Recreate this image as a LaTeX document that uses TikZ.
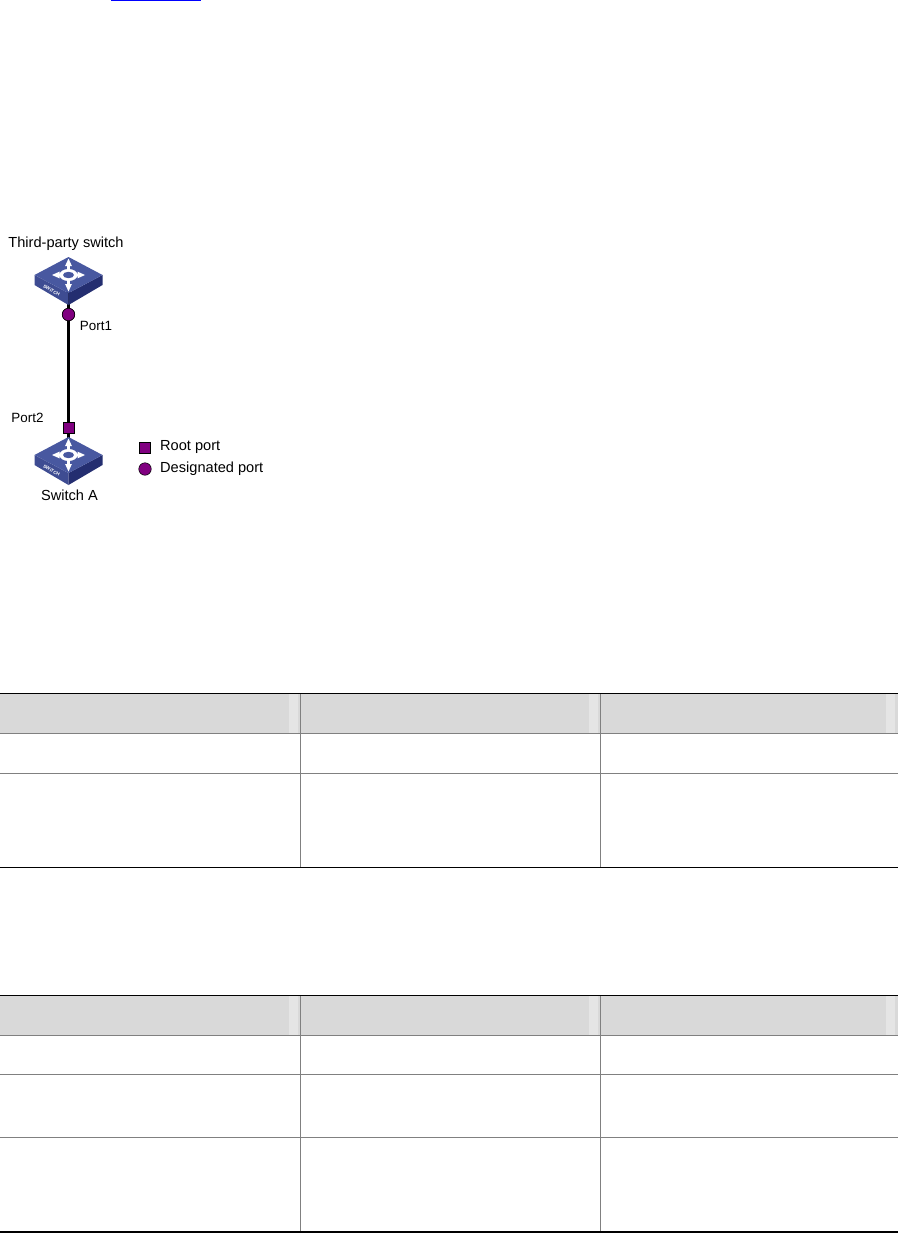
\documentclass[tikz,border=0pt]{standalone}
\usepackage{fontspec}
\setmainfont{Liberation Sans}
\usetikzlibrary{positioning}
\definecolor{portcol}{RGB}{128,0,128}
\definecolor{swtop}{RGB}{72,88,160}
\definecolor{swleft}{RGB}{62,76,146}
\definecolor{swright}{RGB}{36,46,112}
\definecolor{headcol}{RGB}{217,217,217}
\definecolor{stripecol}{RGB}{229,229,229}
\definecolor{rulecol}{RGB}{128,128,128}
\tikzset{
    lbl/.style={inner sep=0pt,font=\fontsize{14.6}{16}\selectfont},
    smalllbl/.style={inner sep=0pt,font=\fontsize{13.4}{15}\selectfont},
    roundport/.style={circle,draw=black,line width=0.5pt,fill=portcol,inner sep=0pt,minimum size=12.5pt},
    squareport/.style={rectangle,draw=black,line width=0.8pt,fill=portcol,inner sep=0pt,minimum size=11pt},
    link/.style={line width=2.4pt,black},
    outer/.style={black,line width=1.2pt},
    inner/.style={rulecol,line width=1pt},
    swarrow/.pic={
        \fill[white] (0,-1.4) -- (9,-1.4) -- (9,-3.4) -- (16.5,0) -- (9,3.4) -- (9,1.4) -- (0,1.4) -- cycle;
    },
    switchicon/.pic={
        \fill[swleft] (-34,0) -- (0,18) -- (0,30) -- (-34,10) -- cycle;
        \fill[swright] (34,0) -- (0,18) -- (0,30) -- (34,10) -- cycle;
        \fill[swtop] (-34,0) -- (0,-18) -- (34,0) -- (0,18) -- cycle;
        \foreach \ang in {0,180} {\pic[rotate=\ang] {swarrow};}
        \begin{scope}[yscale=0.85]
            \pic[rotate=90] {swarrow};
            \pic[rotate=-90] {swarrow};
        \end{scope}
        \fill[white] (0,0) ellipse (9 and 6);
        \fill[swtop] (0,0) ellipse (5.5 and 3.2);
        \node[white,inner sep=0pt,rotate=-29,font=\bfseries\fontsize{4.6}{5}\selectfont] at (-17,15.5) {SWITCH};
    }
}
\newcommand{\tablerules}[5]{%
    \fill[headcol] (0,#1) rectangle (898,#2);
    \foreach \xs in {289,589,886} {\fill[stripecol] (\xs,#1) rectangle (\xs+9,#2);}
    \foreach \xv in {300,600} {\draw[inner] (\xv,#1) -- (\xv,#5);}
    \draw[inner] (0,#2) -- (898,#2);
    \draw[inner] (0,#3) -- (898,#3);
    \draw[outer] (0,#1) -- (898,#1);
    \draw[outer] (0,#5) -- (898,#5);
}
\begin{document}
\begin{tikzpicture}[x=1pt,y=-1pt]
    \useasboundingbox (0,0) rectangle (898,1233);

    \draw[blue,line width=1.3pt] (111,0.5) -- (201,0.5);

    % switches and ports
    \node[roundport] (port1) at (68.5,314.5) {};
    \node[squareport] (port2) at (68.5,428) {};
    \coordinate (tpswitch) at (68.5,290);
    \coordinate (switcha) at (68.5,450);
    \draw[link] (tpswitch) -- (port1);
    \draw[link] (port1) -- (port2);
    \draw[link] (port2) -- (switcha);
    \pic at (68.5,275) {switchicon};
    \pic at (68.5,455) {switchicon};
    \node[roundport] at (port1) {};
    \node[squareport] at (port2) {};

    \node[lbl] (tplabel) at (66,244) {Third-party switch};
    \node[lbl] (swalabel) at (69.5,495) {Switch A};
    \node[smalllbl] (port1label) at (96,326) {Port1};
    \node[smalllbl] (port2label) at (27.5,418) {Port2};

    % legend
    \node[squareport] (rootkey) at (145,447.5) {};
    \node[roundport] (desigkey) at (145,469) {};
    \node[lbl,anchor=west] (rootlabel) at (160,446.5) {Root port};
    \node[lbl,anchor=west] (desiglabel) at (160,469) {Designated port};

    % tables
    \tablerules{693.5}{733.5}{773.5}{0}{867.5}
    \tablerules{995.5}{1035.5}{1074.5}{0}{1232}
    \draw[inner] (0,1137.5) -- (898,1137.5);
\end{tikzpicture}
\end{document}
